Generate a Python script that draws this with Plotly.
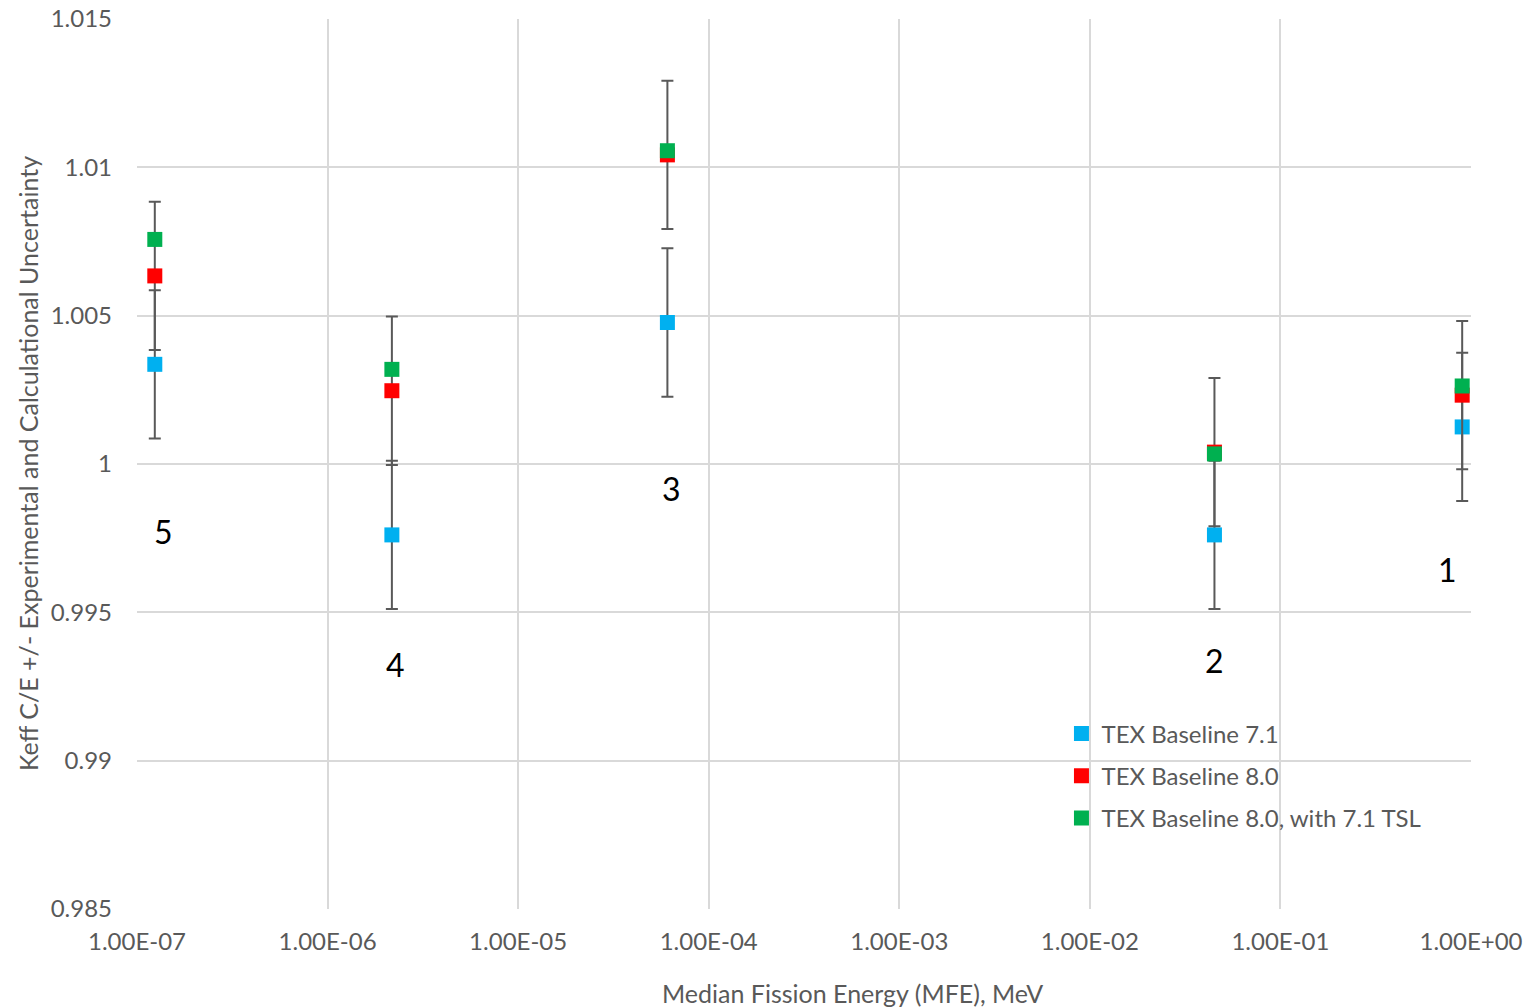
import numpy as np
import plotly.graph_objects as go

# ---- data ----
mfe = [1.24e-7, 2.175e-6, 6.07e-5, 0.04506, 0.899]          # Median fission energy, MeV
keff_71 = [1.00336, 0.99761, 1.00477, 0.99761, 1.00125]     # TEX Baseline 7.1
keff_80 = [1.00634, 1.00247, 1.01042, 1.00040, 1.00232]     # TEX Baseline 8.0
keff_80_tsl = [1.00757, 1.00319, 1.01056, 1.00034, 1.00263] # TEX Baseline 8.0, with 7.1 TSL
unc_71 = [0.0025, 0.0025, 0.0025, 0.0025, 0.0025]
unc_80 = [0.0025, 0.0025, 0.0025, 0.0025, 0.0025]

case_labels = ["5", "4", "3", "2", "1"]
case_label_x = [1.385e-7, 2.28e-6, 6.4e-5, 0.04506, 0.751]
case_label_y = [0.99771, 0.99323, 0.99916, 0.99339, 0.99646]

y_ticks = [0.985, 0.99, 0.995, 1.0, 1.005, 1.01, 1.015]
y_tick_text = ["0.985", "0.99", "0.995", "1", "1.005", "1.01", "1.015"]
x_ticks = [1e-7, 1e-6, 1e-5, 1e-4, 1e-3, 1e-2, 1e-1, 1e0]
x_tick_text = ["1.00E-07", "1.00E-06", "1.00E-05", "1.00E-04",
               "1.00E-03", "1.00E-02", "1.00E-01", "1.00E+00"]

FONT = "Lato"
GREY = "#595959"
GRID = "#d9d9d9"
ERR = "#595959"

fig = go.Figure()
fig.add_trace(go.Scatter(
    x=mfe, y=keff_71, mode="markers", name="TEX Baseline 7.1",
    marker=dict(symbol="square", size=15, color="#00B0F0"),
    error_y=dict(type="data", array=unc_71, color=ERR, thickness=2, width=6),
    legendgroup="a",
))
fig.add_trace(go.Scatter(
    x=mfe, y=keff_80, mode="markers", name="TEX Baseline 8.0",
    marker=dict(symbol="square", size=15, color="#FF0000"),
    error_y=dict(type="data", array=unc_80, color=ERR, thickness=2, width=6),
    legendgroup="b",
))
fig.add_trace(go.Scatter(
    x=mfe, y=keff_80_tsl, mode="markers", name="TEX Baseline 8.0, with 7.1 TSL",
    marker=dict(symbol="square", size=15, color="#00B050"),
    legendgroup="c",
))

annotations = []
for t, lx, ly in zip(case_labels, case_label_x, case_label_y):
    annotations.append(dict(x=np.log10(lx), y=ly, xref="x", yref="y", text=t,
                            showarrow=False, font=dict(family=FONT, size=32, color="black")))

annotations.append(dict(x=0.536, y=-0.0944, xref="paper", yref="paper",
                        xanchor="center", yanchor="middle",
                        text="Median Fission Energy (MFE), MeV", showarrow=False,
                        font=dict(family=FONT, size=25, color=GREY)))
annotations.append(dict(x=-0.0817, y=0.5, xref="paper", yref="paper", textangle=-90,
                        xanchor="center", yanchor="middle",
                        text="Keff C/E +/- Experimental and Calculational Uncertainty",
                        showarrow=False, font=dict(family=FONT, size=25, color=GREY)))

fig.update_layout(
    width=1528, height=1008,
    margin=dict(l=137, r=57, t=19, b=99),
    paper_bgcolor="white", plot_bgcolor="white",
    font=dict(family=FONT, size=24, color=GREY),
    showlegend=True,
    legend=dict(x=0.693, y=0.222, xanchor="left", yanchor="top",
                bgcolor="rgba(0,0,0,0)", font=dict(family=FONT, size=24, color=GREY),
                tracegroupgap=8, itemwidth=30),
    annotations=annotations,
)
fig.update_xaxes(type="log", range=[-7, 0], tickvals=x_ticks, ticktext=x_tick_text,
                 showgrid=True, gridcolor=GRID, gridwidth=1.5, zeroline=False,
                 showline=False, ticks="", ticklabelstandoff=16, automargin=False,
                 tickfont=dict(family=FONT, size=24, color=GREY))
fig.update_yaxes(range=[0.985, 1.015], tickvals=y_ticks, ticktext=y_tick_text,
                 showgrid=True, gridcolor=GRID, gridwidth=1.5, zeroline=False,
                 showline=False, ticks="", ticklabelstandoff=24, automargin=False,
                 tickfont=dict(family=FONT, size=24, color=GREY))

fig.write_html("out.html")
